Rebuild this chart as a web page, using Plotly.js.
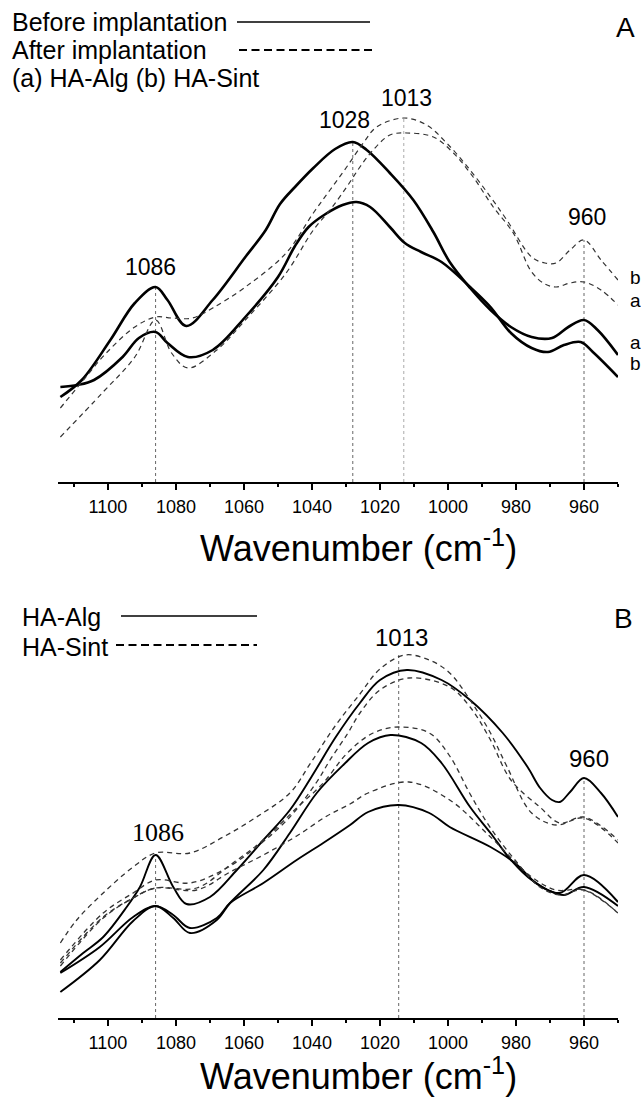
<!DOCTYPE html>
<html>
<head>
<meta charset="utf-8">
<script src="https://cdn.plot.ly/plotly-3.0.1.min.js"></script>
<style>html,body{margin:0;padding:0;background:#fff;}#chart{width:641px;height:1099px;}</style>
</head>
<body>
<div id="chart"></div>
<script>
// ---------- Panel A : before / after implantation ----------
const wnA_algBefore = [1114,1107.7,1099.3,1092.1,1086,1082.5,1077,1069.2,1059.6,1053.6,1049.4,1045,1039.6,1033.2,1028,1023.9,1017.1,1010.2,1004.3,999.5,993.5,987.5,981.5,975.4,969.4,964.6,960,956,950];
const absA_algBefore = [0.85,1.02,1.42,1.79,1.95,1.82,1.56,1.82,2.25,2.52,2.78,2.95,3.14,3.33,3.40,3.32,3.09,2.82,2.50,2.20,1.94,1.72,1.55,1.45,1.44,1.55,1.62,1.52,1.27];

const wnA_sintBefore = [1114,1108.9,1104.1,1095.7,1090.9,1086,1082.5,1076.5,1069.2,1059.6,1050,1045,1041,1036,1031,1026.9,1022.9,1017.1,1012.7,1007.9,1001.9,993.5,987.5,981.5,975.4,970.6,965.9,961,957.4,950];
const absA_sintBefore = [0.95,0.97,1.02,1.25,1.44,1.50,1.39,1.25,1.32,1.65,2.05,2.36,2.55,2.68,2.77,2.80,2.75,2.55,2.39,2.30,2.20,1.95,1.75,1.49,1.34,1.30,1.37,1.40,1.30,1.05];

const wnA_sintAfter = [1114,1107.7,1100.5,1092.1,1086,1081.3,1075.2,1069.2,1059.6,1047.6,1039.6,1034.7,1029.8,1024.9,1021,1013,1006.3,1000.4,993.5,987.5,982.7,975.4,971.5,968.2,964.1,960,955,950];
const absA_sintAfter = [0.74,1.00,1.29,1.55,1.65,1.64,1.64,1.74,1.95,2.29,2.69,2.92,3.15,3.39,3.55,3.64,3.57,3.39,3.12,2.85,2.62,2.25,2.19,2.19,2.32,2.42,2.22,2.02];

const wnA_algAfter = [1114,1101.7,1092.1,1086,1081.3,1076.5,1068,1059.6,1047.6,1039.6,1034.7,1029.8,1025.9,1022,1017.1,1012.1,1004.3,998.4,992.6,986.7,980.8,975.4,971.5,968.2,964.1,960,955,950];
const absA_algAfter = [0.45,0.89,1.25,1.62,1.29,1.14,1.32,1.62,2.09,2.52,2.72,2.95,3.15,3.32,3.47,3.49,3.45,3.29,3.05,2.75,2.49,2.10,1.98,1.95,1.99,2.00,1.92,1.77];

// ---------- Panel B : HA-Alg (solid) and HA-Sint (dashed) ----------
const wnB_alg1 = [1114,1107.3,1101.4,1094.5,1090.6,1086,1080.8,1076.9,1070,1062.1,1054.3,1046.5,1040,1033.2,1025.9,1020,1012.1,1001.9,993.5,983.9,976.6,972.9,969.4,967.1,964.1,960,955,950];
const absB_alg1 = [0.46,0.65,0.81,1.11,1.31,1.63,1.31,1.14,1.21,1.48,1.78,2.08,2.42,2.80,3.15,3.38,3.48,3.38,3.18,2.85,2.51,2.30,2.18,2.16,2.26,2.40,2.25,2.01];

const wnB_alg2 = [1114,1102.4,1092.6,1086,1080.8,1075.9,1068,1064.1,1054.3,1046.5,1038.6,1030.8,1023.5,1016.9,1007.9,1001.9,993.5,987.5,981.5,975.4,967.1,960,950];
const absB_alg2 = [0.26,0.58,0.97,1.12,1.00,0.85,0.98,1.15,1.48,1.85,2.25,2.53,2.75,2.83,2.75,2.55,2.11,1.85,1.58,1.38,1.25,1.43,1.16];

const wnB_alg3 = [1114,1102.4,1092.6,1086,1080.8,1075.9,1068,1064.1,1054.3,1044.5,1036.7,1028.8,1023.5,1014.5,1005.5,999.5,987.5,980.3,974.2,970.6,965.9,960,950];
const absB_alg3 = [0.45,0.71,1.01,1.12,1.03,0.90,1.00,1.15,1.35,1.58,1.75,1.93,2.06,2.13,2.05,1.91,1.71,1.55,1.35,1.28,1.23,1.31,1.12];

const wnB_sint1 = [1114,1109.2,1101.4,1092.6,1086,1075.9,1066.1,1056.3,1046.5,1040.4,1033.2,1025.9,1020,1012.7,1005.5,999.5,993.5,987.5,982.6,975.4,968.2,960,950];
const absB_sint1 = [0.75,0.98,1.25,1.51,1.65,1.65,1.81,2.01,2.25,2.55,2.92,3.24,3.49,3.63,3.58,3.45,3.18,2.85,2.51,2.05,1.93,2.00,1.75];

const wnB_sint2 = [1114,1101.4,1092.6,1086,1075.9,1066.1,1056.3,1046.5,1038.6,1034.7,1029.6,1025.9,1020,1011.5,999.5,993.5,987.5,981.5,973,967.1,960,950];
const absB_sint2 = [0.58,1.05,1.25,1.38,1.35,1.48,1.71,2.01,2.36,2.58,2.84,3.05,3.28,3.40,3.31,3.11,2.78,2.38,2.11,1.95,2.01,1.78];

const wnB_sint3 = [1114,1101.4,1092.6,1086,1073.9,1064.1,1054.3,1044.5,1036.7,1029.6,1022,1014.5,1005.5,999.5,993.5,987.5,980.3,973,967.1,960,950];
const absB_sint3 = [0.55,1.01,1.20,1.30,1.30,1.53,1.78,2.10,2.35,2.65,2.85,2.91,2.85,2.62,2.24,1.90,1.58,1.31,1.23,1.28,1.05];

const wnB_sint4 = [1114,1101.4,1092.6,1086,1073.9,1064.1,1054.3,1044.5,1035.6,1028.8,1023.5,1011.5,999.5,987.5,975.4,968.2,960,950];
const absB_sint4 = [0.52,1.00,1.20,1.30,1.28,1.46,1.63,1.82,2.02,2.14,2.25,2.36,2.18,1.81,1.41,1.28,1.28,1.05];

// peak markers: position, top of dotted guide, label text, label position
const peaksA = [1086, 1028, 1013, 960];
const peakTopsA = [1.95, 3.41, 3.65, 2.42];
const peakLabelsA = ['1086', '1028', '1013', '960'];
const peakLabelXA = [1087.6, 1030.4, 1012.1, 959.1];
const peakLabelYA = [2.15, 3.62, 3.84, 2.65];

const peaksB = [1086, 1014.5, 960];
const peakTopsB = [1.63, 3.63, 2.38];
const peakLabelsB = ['1086', '1013', '960'];
const peakLabelXB = [1085.4, 1013.6, 958.5];
const peakLabelYB = [1.86, 3.81, 2.60];

const xTickVals = [1100, 1080, 1060, 1040, 1020, 1000, 980, 960];

const SANS = 'Liberation Sans, Arial, sans-serif';
const SERIF = 'Liberation Serif, Times New Roman, serif';
const DASH = '5px,4px';

function line(x, y, xa, ya, solid, w) {
  return {
    x: x, y: y, xaxis: xa, yaxis: ya, type: 'scatter', mode: 'lines',
    line: solid ? {color: '#000', width: w, shape: 'spline', smoothing: 1}
                : {color: '#333', width: w, dash: DASH, shape: 'spline', smoothing: 1},
    hoverinfo: 'skip', showlegend: false
  };
}

const traces = [
  line(wnA_algBefore, absA_algBefore, 'x', 'y', true, 2.6),
  line(wnA_sintBefore, absA_sintBefore, 'x', 'y', true, 2.6),
  line(wnA_sintAfter, absA_sintAfter, 'x', 'y', false, 1.2),
  line(wnA_algAfter, absA_algAfter, 'x', 'y', false, 1.2),
  line(wnB_alg1, absB_alg1, 'x2', 'y2', true, 1.9),
  line(wnB_alg2, absB_alg2, 'x2', 'y2', true, 1.9),
  line(wnB_alg3, absB_alg3, 'x2', 'y2', true, 1.9),
  line(wnB_sint1, absB_sint1, 'x2', 'y2', false, 1.3),
  line(wnB_sint2, absB_sint2, 'x2', 'y2', false, 1.3),
  line(wnB_sint3, absB_sint3, 'x2', 'y2', false, 1.3),
  line(wnB_sint4, absB_sint4, 'x2', 'y2', false, 1.3)
];

const shapes = [];
peaksA.forEach((p, i) => shapes.push({type: 'line', xref: 'x', yref: 'y', x0: p, x1: p, y0: 0, y1: peakTopsA[i],
  line: {color: p === 1013 ? '#aaa' : '#666', width: 1, dash: 'dot'}, layer: 'below'}));
peaksB.forEach((p, i) => shapes.push({type: 'line', xref: 'x2', yref: 'y2', x0: p, x1: p, y0: 0, y1: peakTopsB[i],
  line: {color: '#666', width: 1, dash: 'dot'}, layer: 'below'}));

// legend keys (paper coordinates)
const W = 641, H = 1099;
function px(x) { return x / W; }
function py(y) { return 1 - y / H; }
shapes.push({type: 'line', xref: 'paper', yref: 'paper', x0: px(237), x1: px(370), y0: py(22), y1: py(22), line: {color: '#000', width: 1.5}});
shapes.push({type: 'line', xref: 'paper', yref: 'paper', x0: px(239), x1: px(376), y0: py(50), y1: py(50), line: {color: '#000', width: 2.2, dash: '8px,4.5px'}});
shapes.push({type: 'line', xref: 'paper', yref: 'paper', x0: px(121), x1: px(257), y0: py(616), y1: py(616), line: {color: '#000', width: 1.5}});
shapes.push({type: 'line', xref: 'paper', yref: 'paper', x0: px(116), x1: px(257), y0: py(645), y1: py(645), line: {color: '#000', width: 2.2, dash: '8px,4.5px'}});

const annotations = [];
peakLabelsA.forEach((t, i) => annotations.push({xref: 'x', yref: 'y', x: peakLabelXA[i], y: peakLabelYA[i], text: t,
  showarrow: false, xanchor: 'center', yanchor: 'middle', font: {family: SANS, size: 23, color: '#000'}}));
peakLabelsB.forEach((t, i) => annotations.push({xref: 'x2', yref: 'y2', x: peakLabelXB[i], y: peakLabelYB[i], text: t,
  showarrow: false, xanchor: 'center', yanchor: 'middle',
  font: {family: t === '1086' ? SERIF : SANS, size: t === '1086' ? 26 : 24, color: '#000'}}));

function txt(x, y, t, size, anchor, fam) {
  annotations.push({xref: 'paper', yref: 'paper', x: px(x), y: py(y), text: t, showarrow: false,
    xanchor: anchor || 'left', yanchor: 'middle', font: {family: fam || SANS, size: size, color: '#000'}});
}
txt(10, 22, 'Before implantation', 25);
txt(10, 50, 'After implantation', 25);
txt(10, 78, '(a) HA-Alg (b) HA-Sint', 25);
txt(625, 28, 'A', 28, 'center');
txt(20, 617, 'HA-Alg', 25);
txt(20, 647, 'HA-Sint', 25);
txt(623, 618, 'B', 28, 'center');
// curve tags on the right of panel A
txt(635, 277, 'b', 19, 'center');
txt(635, 300, 'a', 19, 'center');
txt(635, 342, 'a', 19, 'center');
txt(635, 363, 'b', 19, 'center');
// axis titles
txt(358, 546, 'Wavenumber (cm<sup>-1</sup>)', 36, 'center');
txt(358, 1074, 'Wavenumber (cm<sup>-1</sup>)', 36, 'center');

function xaxisCfg(anchor) {
  return {
    anchor: anchor, domain: [58 / W, 618 / W], range: [1114.7, 950],
    showline: true, linecolor: '#000', linewidth: 2, mirror: false,
    showgrid: false, zeroline: false,
    ticks: 'outside', ticklen: 6, tickwidth: 2, tickcolor: '#000',
    tickmode: 'array', tickvals: xTickVals, ticktext: xTickVals.map(String),
    minor: {ticks: 'outside', ticklen: 3, tickwidth: 1.5, tickcolor: '#000', dtick: 10, tick0: 950},
    tickfont: {family: SANS, size: 18, color: '#000'},
    ticklabelstandoff: 1
  };
}

const layout = {
  width: W, height: H,
  margin: {l: 0, r: 0, t: 0, b: 0},
  paper_bgcolor: '#fff', plot_bgcolor: '#fff',
  showlegend: false,
  xaxis: xaxisCfg('y'),
  yaxis: {domain: [py(482), py(80)], range: [0, 4.02], visible: false, fixedrange: true},
  xaxis2: xaxisCfg('y2'),
  yaxis2: {domain: [py(1018), py(620)], range: [0, 3.98], visible: false, fixedrange: true},
  shapes: shapes,
  annotations: annotations
};

Plotly.newPlot('chart', traces, layout, {displayModeBar: false, staticPlot: true});
</script>
</body>
</html>
